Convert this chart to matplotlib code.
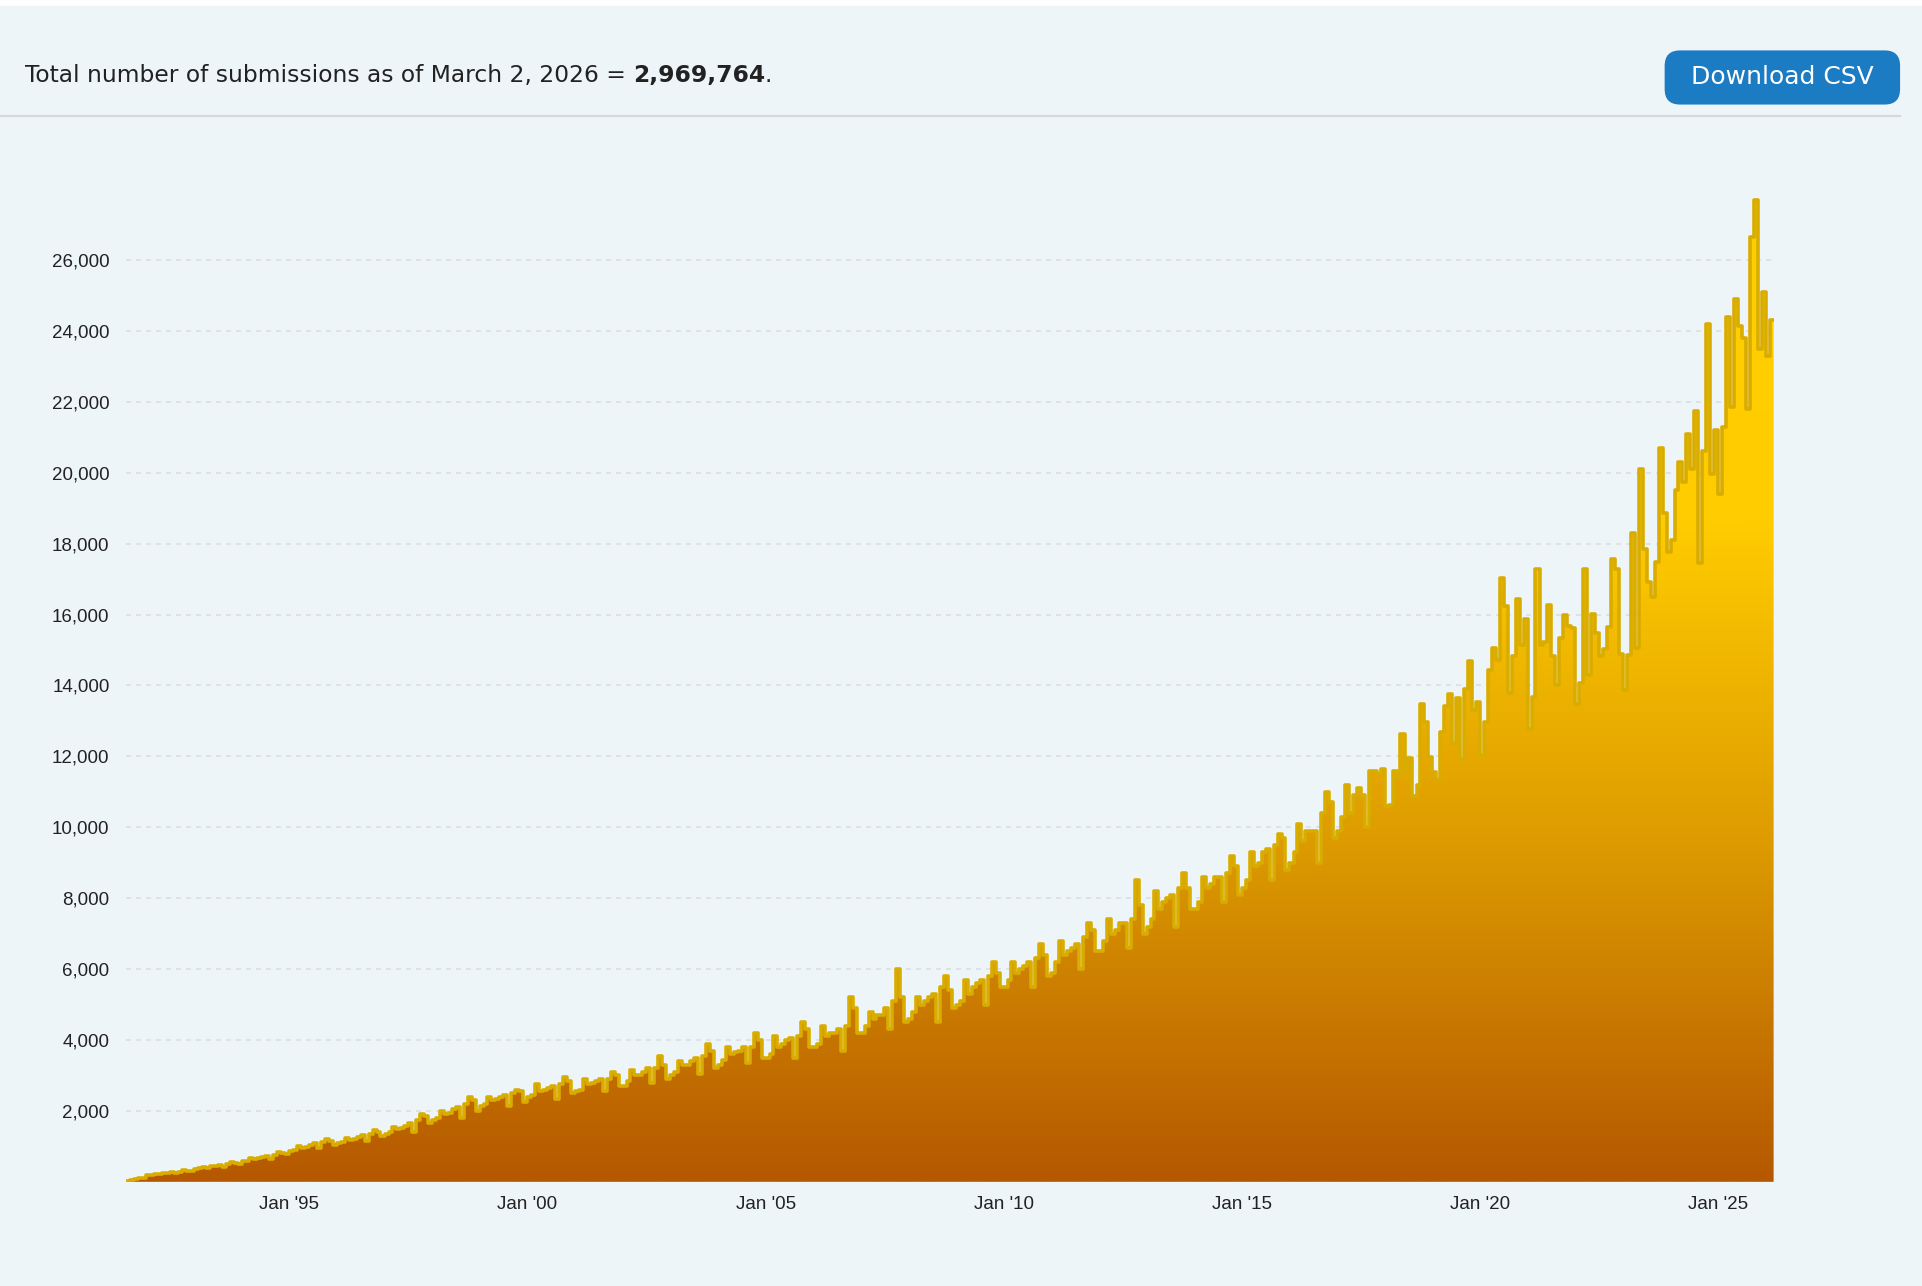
import numpy as np
import matplotlib
matplotlib.use("Agg")
import matplotlib.pyplot as plt
import matplotlib.dates as mdates
from matplotlib.patches import FancyBboxPatch
from matplotlib.colors import LinearSegmentedColormap
import datetime as dt

start_year, start_month = 1991, 8
v1991 = [30, 60, 80, 100, 110]
v1992 = [180, 200, 230, 220, 240, 260, 270, 240, 280, 320, 310, 300]
v1993 = [350, 380, 420, 400, 440, 460, 480, 420, 500, 550, 530, 500]
v1994 = [580, 600, 660, 640, 680, 700, 720, 650, 760, 840, 820, 780]
v1995 = [880, 900, 1000, 950, 990, 1050, 1100, 950, 1120, 1200, 1150, 1050]
v1996 = [1100, 1130, 1250, 1180, 1220, 1270, 1320, 1150, 1350, 1450, 1400, 1300]
v1997 = [1350, 1400, 1550, 1480, 1520, 1580, 1650, 1400, 1750, 1900, 1850, 1650]
v1998 = [1750, 1800, 2000, 1900, 1950, 2050, 2100, 1800, 2200, 2400, 2300, 2000]
v1999 = [2150, 2200, 2400, 2300, 2350, 2400, 2450, 2150, 2500, 2600, 2550, 2250]
v2000 = [2400, 2450, 2750, 2550, 2600, 2650, 2700, 2350, 2750, 2950, 2850, 2500]
v2001 = [2550, 2600, 2900, 2750, 2800, 2850, 2900, 2550, 2900, 3100, 3000, 2700]
v2002 = [2700, 2850, 3150, 3000, 3000, 3100, 3200, 2800, 3200, 3550, 3300, 2900]
v2003 = [3000, 3100, 3400, 3300, 3300, 3400, 3500, 3050, 3550, 3900, 3700, 3200]
v2004 = [3300, 3450, 3800, 3600, 3650, 3700, 3800, 3350, 3800, 4200, 4000, 3500]
v2005 = [3500, 3600, 4100, 3800, 3900, 4000, 4050, 3500, 4100, 4500, 4300, 3800]
v2006 = [3800, 3900, 4400, 4100, 4200, 4200, 4300, 3700, 4400, 5200, 4900, 4200]
v2007 = [4200, 4400, 4800, 4600, 4700, 4700, 4900, 4300, 5100, 6000, 5200, 4500]
v2008 = [4600, 4800, 5200, 5000, 5100, 5200, 5300, 4500, 5500, 5800, 5400, 4900]
v2009 = [5000, 5100, 5700, 5300, 5500, 5600, 5700, 5000, 5800, 6200, 5900, 5500]
v2010 = [5500, 5700, 6200, 5900, 6000, 6100, 6200, 5500, 6300, 6700, 6400, 5800]
v2011 = [5900, 6200, 6800, 6400, 6500, 6600, 6700, 6000, 6900, 7300, 7100, 6500]
v2012 = [6500, 6800, 7400, 7000, 7100, 7300, 7300, 6600, 7400, 8500, 7800, 7000]
v2013 = [7200, 7400, 8200, 7700, 7900, 8000, 8100, 7200, 8300, 8700, 8300, 7700]
v2014 = [7700, 7900, 8600, 8300, 8400, 8600, 8600, 7900, 8700, 9200, 8900, 8100]
v2015 = [8300, 8500, 9300, 8900, 9000, 9300, 9400, 8500, 9500, 9800, 9700, 8800]
v2016 = [9000, 9300, 10100, 9600, 9900, 9900, 9900, 9000, 10400, 11000, 10700, 9700]
v2017 = [9900, 10300, 11200, 10400, 10900, 11100, 10900, 10000, 11600, 11600, 11500, 11635]
v2018 = [10600, 10625, 11590, 11400, 12625, 11590, 11965, 10880, 11190, 13480, 12970, 11985]
v2019 = [11560, 11330, 12690, 13430, 13770, 12390, 13650, 11920, 13900, 14700, 13300, 13540]
v2020 = [12040, 12955, 14435, 15050, 14730, 17030, 16230, 13785, 14840, 16440, 15140, 15880]
v2021 = [12770, 13680, 17290, 15140, 15220, 16275, 14820, 14020, 15350, 15980, 15690, 15620]
v2022 = [13490, 14070, 17290, 14290, 16020, 15480, 14820, 15030, 15660, 17580, 17290, 14890]
v2023 = [13880, 14870, 18300, 15050, 20100, 17860, 16915, 16500, 17480, 20690, 18850, 17750]
v2024 = [18100, 19500, 20300, 19750, 21100, 20100, 21750, 17450, 20600, 24200, 19950, 21200]
v2025 = [19400, 21300, 24400, 21850, 24900, 24150, 23800, 21800, 26650, 27700, 23500, 25100]
v2026 = [23300, 24300]

values = (v1991 + v1992 + v1993 + v1994 + v1995 + v1996 + v1997 + v1998 + v1999 + v2000
          + v2001 + v2002 + v2003 + v2004 + v2005 + v2006 + v2007 + v2008 + v2009 + v2010
          + v2011 + v2012 + v2013 + v2014 + v2015 + v2016 + v2017 + v2018 + v2019 + v2020
          + v2021 + v2022 + v2023 + v2024 + v2025 + v2026)
yticks = [2000, 4000, 6000, 8000, 10000, 12000, 14000, 16000, 18000, 20000, 22000, 24000, 26000]
tick_years = [1995, 2000, 2005, 2010, 2015, 2020, 2025]

def month_date(i):
    m = start_month - 1 + i
    return dt.date(start_year + m // 12, m % 12 + 1, 1)

dates = [month_date(i) for i in range(len(values) + 1)]
x = mdates.date2num(dates)
y = np.array(values + [values[-1]], dtype=float)

bg = "#EEF5F8"
fig = plt.figure(figsize=(19.22, 12.86), dpi=100, facecolor=bg)
plt.rcParams['font.family'] = ['DejaVu Sans']

ax = fig.add_axes([0.0657, 0.081, 0.8571, 0.772])
ax.set_facecolor(bg)
ax.set_xlim(x[0], x[-1])
ax.set_ylim(0, 28000)

xs = np.repeat(x, 2)[1:-1]
ys = np.repeat(y[:-1], 2)
poly = ax.fill_between(xs, ys, 0, color="none", lw=0)
cmap = LinearSegmentedColormap.from_list("g", ["#B55800", "#DC9A00", "#FFCC00", "#FFCF00"])
grad = np.linspace(0, 1, 512).reshape(-1, 1)
im = ax.imshow(grad, aspect="auto", cmap=cmap, origin="lower",
               extent=[x[0], x[-1], 0, 28000], zorder=2)
im.set_clip_path(poly.get_paths()[0], transform=ax.transData)
ax.step(x, y, where="post", color="#D9AC00", lw=2.6, zorder=3)

ax.set_yticks(yticks)
ax.set_yticklabels([f"{v:,}" for v in yticks], family="Liberation Sans")
ax.set_xticks(mdates.date2num([dt.date(yr, 1, 1) for yr in tick_years]))
ax.set_xticklabels([f"Jan '{yr % 100:02d}" for yr in tick_years], family="Liberation Sans")
ax.grid(axis="y", color="#DADFE3", ls=(0, (3, 3)), lw=1.2, zorder=1)
ax.set_axisbelow(True)
for s in ax.spines.values():
    s.set_visible(False)
ax.tick_params(axis="both", length=0, labelsize=13.5, colors="#222222")
ax.tick_params(axis="y", pad=12)
ax.tick_params(axis="x", pad=10)

hdr = "Total number of submissions as of March 2, 2026 = "
t1 = fig.text(0.0128, 0.941, hdr, fontsize=16.8, va="center", ha="left", color="#222222")
fig.canvas.draw()
bb = t1.get_window_extent()
t2 = fig.text(bb.x1 / fig.bbox.width, 0.941, "2,969,764", fontsize=16.8, va="center", ha="left",
              fontweight="bold", color="#222222")
fig.canvas.draw()
bb2 = t2.get_window_extent()
fig.text(bb2.x1 / fig.bbox.width, 0.941, ".", fontsize=16.8, va="center", ha="left", color="#222222")

btn = FancyBboxPatch((0.8661, 0.9187), 0.1225, 0.0421, boxstyle="round,pad=0,rounding_size=0.008",
                     transform=fig.transFigure, facecolor="#1B7BC3", edgecolor="none",
                     mutation_aspect=1.5)
fig.patches.append(btn)
fig.text(0.9273, 0.9398, "Download CSV", fontsize=18, color="white", ha="center", va="center")
fig.add_artist(plt.Line2D([0, 0.9885], [0.910, 0.910], transform=fig.transFigure,
                          color="#D4D9DD", lw=1.5))
fig.add_artist(plt.Line2D([0, 1], [0.998, 0.998], transform=fig.transFigure,
                          color="white", lw=4))

fig.savefig("out.png", dpi=100, facecolor=bg)
